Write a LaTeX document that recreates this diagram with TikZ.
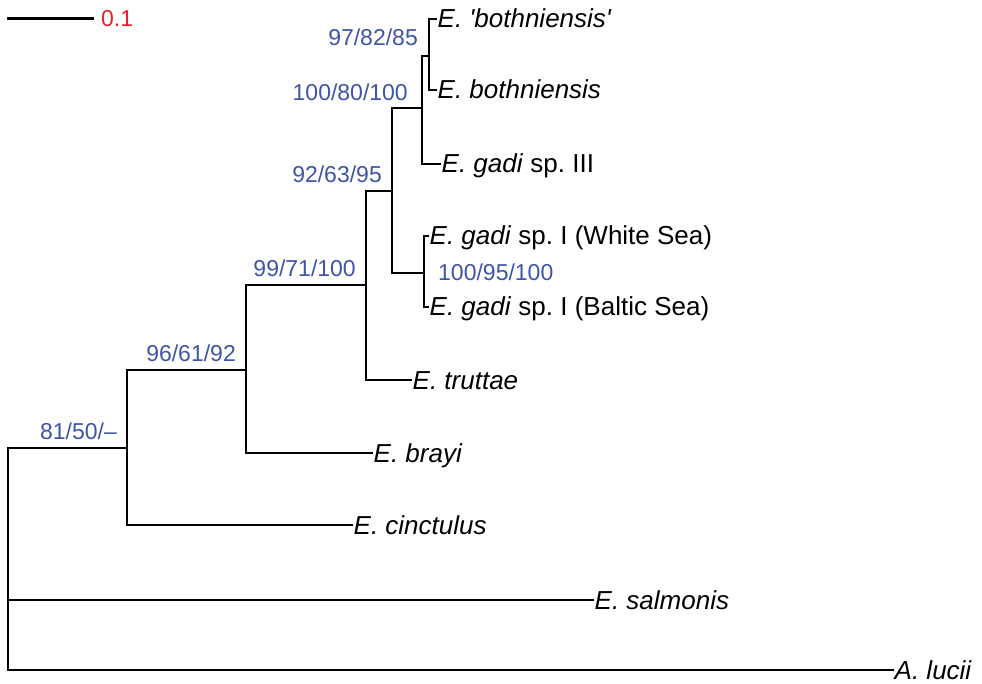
\documentclass[tikz,border=0pt]{standalone}
\usepackage{fontspec}
\setmainfont{Liberation Sans}
\frenchspacing
\definecolor{supblue}{RGB}{62,84,166}
\definecolor{scalered}{RGB}{232,32,42}
\begin{document}
\begin{tikzpicture}[x=1pt,y=-1pt,
  branch/.style={draw=black,line width=1.1pt,line cap=rect},
  leaf/.style={anchor=west,inner xsep=1.5pt,inner ysep=0pt,text height=18pt,text depth=0pt,
    font=\fontsize{26}{30}\selectfont\frenchspacing},
  support/.style={text=supblue,inner sep=0pt,font=\fontsize{23}{27}\selectfont},
  scalelab/.style={text=scalered,anchor=base west,inner sep=0pt,font=\fontsize{23}{27}\selectfont}]
\useasboundingbox (0,0) rectangle (982,684);

% internal nodes
\coordinate (R) at (8,448);
\coordinate (N1) at (127,448);
\coordinate (N2) at (246,370);
\coordinate (N3) at (366,285);
\coordinate (N4) at (392,191);
\coordinate (N5) at (422,108);
\coordinate (N7) at (429,56);
\coordinate (N6) at (424,273);

% leaves
\node[leaf] (bq) at (436,19) {\textit{E. \textquotesingle bothniensis\textquotesingle}};
\node[leaf] (bo) at (436,90) {\textit{E. bothniensis}};
\node[leaf] (g3) at (440,164) {\textit{E. gadi} sp. III};
\node[leaf] (gw) at (428,236) {\textit{E. gadi} sp. I (White Sea)};
\node[leaf] (gb) at (428,307) {\textit{E. gadi} sp. I (Baltic Sea)};
\node[leaf] (tr) at (411,380) {\textit{E. truttae}};
\node[leaf] (br) at (372,453) {\textit{E. brayi}};
\node[leaf] (ci) at (352,525) {\textit{E. cinctulus}};
\node[leaf] (sa) at (593,600) {\textit{E. salmonis}};
\node[leaf] (lu) at (893,670) {\textit{A. lucii}};

% branches
\draw[branch] (R) -- (N1);
\draw[branch] (R) |- (sa.west);
\draw[branch] (R) |- (lu.west);
\draw[branch] (N1) |- (N2);
\draw[branch] (N1) |- (ci.west);
\draw[branch] (N2) |- (N3);
\draw[branch] (N2) |- (br.west);
\draw[branch] (N3) |- (N4);
\draw[branch] (N3) |- (tr.west);
\draw[branch] (N4) |- (N5);
\draw[branch] (N4) |- (N6);
\draw[branch] (N5) |- (N7);
\draw[branch] (N5) |- (g3.west);
\draw[branch] (N7) |- (bq.west);
\draw[branch] (N7) |- (bo.west);
\draw[branch] (N6) |- (gw.west);
\draw[branch] (N6) |- (gb.west);

% support values
\node[support,anchor=base east] (s1) at (117,439) {81/50/--};
\node[support,anchor=base east] (s2) at (236,362) {96/61/92};
\node[support,anchor=base east] (s3) at (356,277) {99/71/100};
\node[support,anchor=base east] (s4) at (382,183) {92/63/95};
\node[support,anchor=base east] (s5) at (408,101) {100/80/100};
\node[support,anchor=base east] (s7) at (418,46) {97/82/85};
\node[support,anchor=base west] (s6) at (438,281) {100/95/100};

% scale bar
\coordinate (sbL) at (7,19);
\coordinate (sbR) at (94,19);
\draw[line width=3pt] (sbL) -- (sbR);
\node[scalelab] (sbT) at (101,27) {0.1};
\end{tikzpicture}
\end{document}
